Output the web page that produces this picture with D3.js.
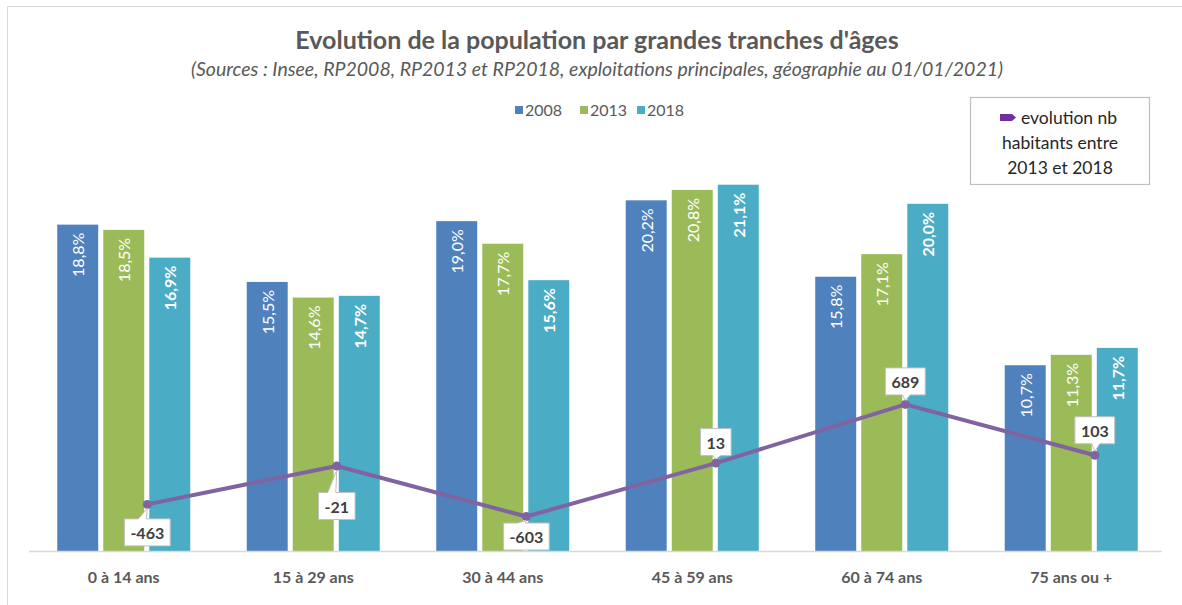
<!DOCTYPE html>
<html><head><meta charset="utf-8">
<script src="https://cdn.jsdelivr.net/npm/d3@7"></script>
<style>body{margin:0;background:#fff}svg{display:block}</style>
</head><body><svg id="c" width="1182" height="605"></svg>
<script>
const categories = ["0 à 14 ans","15 à 29 ans","30 à 44 ans","45 à 59 ans","60 à 74 ans","75 ans ou +"];
const seriesNames = ["2008","2013","2018"];
const values2008 = [18.8,15.5,19.0,20.2,15.8,10.7];
const values2013 = [18.5,14.6,17.7,20.8,17.1,11.3];
const values2018 = [16.9,14.7,15.6,21.1,20.0,11.7];
const evolution = [-463,-21,-603,13,689,103];
const title = "Evolution de la population par grandes tranches d'âges";
const subtitle = "(Sources : Insee, RP2008, RP2013 et RP2018, exploitations principales, géographie au 01/01/2021)";
const lineLegend = ["evolution nb","habitants entre","2013 et 2018"];

const colors = {"2008":"#4F81BD","2013":"#9BBB59","2018":"#4BACC6"};
const lineColor = "#8064A2";
const FONT = "Lato, 'Open Sans', sans-serif";
// label box placement relative to the point (layout)
const labelDy = [28,40,20,-21,-23,-25];

const svg = d3.select("#c").style("font-family", FONT);
// frame
svg.append("path").attr("d","M7.5,605 V6.5 H1182").attr("fill","none").attr("stroke","#d9d9d9").attr("stroke-width",1);

const pLeft=29, pRight=1166, pTop=117, pBottom=551;
const x0 = d3.scaleBand().domain(categories).range([pLeft,pRight]).paddingInner(0.298).paddingOuter(0.149);
const x1 = d3.scaleBand().domain(seriesNames).range([0,x0.bandwidth()]).paddingInner(0.11);
const y = d3.scaleLinear().domain([0,25]).range([pBottom,pTop]);
const y2 = d3.scaleLinear().domain([-1000,4000]).range([pBottom,pTop]);

const data = {"2008":values2008,"2013":values2013,"2018":values2018};

// title
svg.append("text").attr("x",597).attr("y",49).attr("text-anchor","middle")
  .attr("font-size",25).attr("font-weight","bold").attr("fill","#595959").text(title);
svg.append("text").attr("x",597).attr("y",76).attr("text-anchor","middle")
  .attr("font-size",19.5).attr("font-style","italic").attr("fill","#595959").text(subtitle);

// top legend
const legX = [515,580,637];
seriesNames.forEach((s,i)=>{
  const g = svg.append("g").attr("transform",`translate(${legX[i]},110)`);
  g.append("rect").attr("x",0).attr("y",-4).attr("width",8).attr("height",8).attr("fill",colors[s]);
  g.append("text").attr("x",10).attr("y",5.5).attr("font-size",16).attr("fill","#595959").text(s);
});

// bars
const groups = svg.append("g").selectAll("g").data(categories).join("g")
  .attr("transform",d=>`translate(${x0(d)},0)`);
seriesNames.forEach(s=>{
  groups.append("rect").attr("x",x1(s)).attr("width",x1.bandwidth())
    .attr("y",(d,i)=>y(data[s][i])).attr("height",(d,i)=>pBottom-y(data[s][i])).attr("fill",colors[s]);
  groups.append("text")
    .attr("transform",(d,i)=>`translate(${x1(s)+x1.bandwidth()/2},${y(data[s][i])+8}) rotate(-90)`)
    .attr("text-anchor","end").attr("dominant-baseline","central")
    .attr("font-size",16).attr("font-weight",s==="2018"?"bold":"normal").attr("fill","#fff")
    .text((d,i)=>data[s][i].toFixed(1).replace(".",",")+"%");
});

// axis line
svg.append("line").attr("x1",pLeft).attr("x2",1162).attr("y1",pBottom+0.5).attr("y2",pBottom+0.5)
  .attr("stroke","#d9d9d9").attr("stroke-width",1.5);

// category axis labels
const xAxis = d3.axisBottom(x0).tickSize(0).tickPadding(0);
const ax = svg.append("g").attr("transform",`translate(0,${pBottom})`).call(xAxis);
ax.select(".domain").remove();
ax.selectAll("text").attr("y",32).attr("dy",0).attr("font-family",FONT).attr("font-size",16)
  .attr("font-weight","bold").attr("fill","#595959");

// line
const lx = (d,i)=>x0(categories[i]) + x1("2018") - 2;
const lineGen = d3.line().x((d,i)=>lx(d,i)).y(d=>y2(d));
svg.append("path").datum(evolution).attr("d",lineGen).attr("fill","none")
  .attr("stroke",lineColor).attr("stroke-width",4).attr("stroke-linejoin","round");
svg.append("g").selectAll("circle").data(evolution).join("circle")
  .attr("cx",lx).attr("cy",d=>y2(d)).attr("r",4.5).attr("fill",lineColor);

// callout labels
evolution.forEach((v,i)=>{
  const px = lx(v,i), py = y2(v);
  const cy = py + labelDy[i];
  const t = svg.append("text").attr("x",px).attr("y",cy).attr("text-anchor","middle")
    .attr("dominant-baseline","central").attr("font-size",16).attr("font-weight","bold")
    .attr("fill","#404040").text(String(v));
  const w = t.node().getComputedTextLength()+12, h=27;
  const bx = px-w/2, by = cy-h/2;
  const below = labelDy[i]>0;
  const tipx = px + (below? -6:0);
  const p = d3.path();
  if(below){
    p.moveTo(bx,by); p.lineTo(tipx-3,by); p.lineTo(px,py+4); p.lineTo(tipx+5,by);
    p.lineTo(bx+w,by); p.lineTo(bx+w,by+h); p.lineTo(bx,by+h); p.closePath();
  } else {
    p.moveTo(bx,by); p.lineTo(bx+w,by); p.lineTo(bx+w,by+h); p.lineTo(px+5,by+h);
    p.lineTo(px,py-4); p.lineTo(px-3,by+h); p.lineTo(bx,by+h); p.closePath();
  }
  svg.insert("path", () => t.node()).attr("d",p.toString()).attr("fill","#fff").attr("stroke","#bfbfbf").attr("stroke-width",1);
});

// line legend box
const lb = svg.append("g");
lb.append("rect").attr("x",970.5).attr("y",97.5).attr("width",179).attr("height",87)
  .attr("fill","#fff").attr("stroke","#bfbfbf").attr("stroke-width",1.2);
lb.append("path").attr("d","M1000,114 H1012 L1016,117.5 L1012,121 H1000 Z").attr("fill","#7030A0");
lb.append("text").attr("x",1021).attr("y",124).attr("font-size",17.5).attr("fill","#262626").text(lineLegend[0]);
lb.append("text").attr("x",1060).attr("y",149).attr("text-anchor","middle").attr("font-size",17.5).attr("fill","#262626").text(lineLegend[1]);
lb.append("text").attr("x",1060).attr("y",174).attr("text-anchor","middle").attr("font-size",17.5).attr("fill","#262626").text(lineLegend[2]);
</script></body></html>
